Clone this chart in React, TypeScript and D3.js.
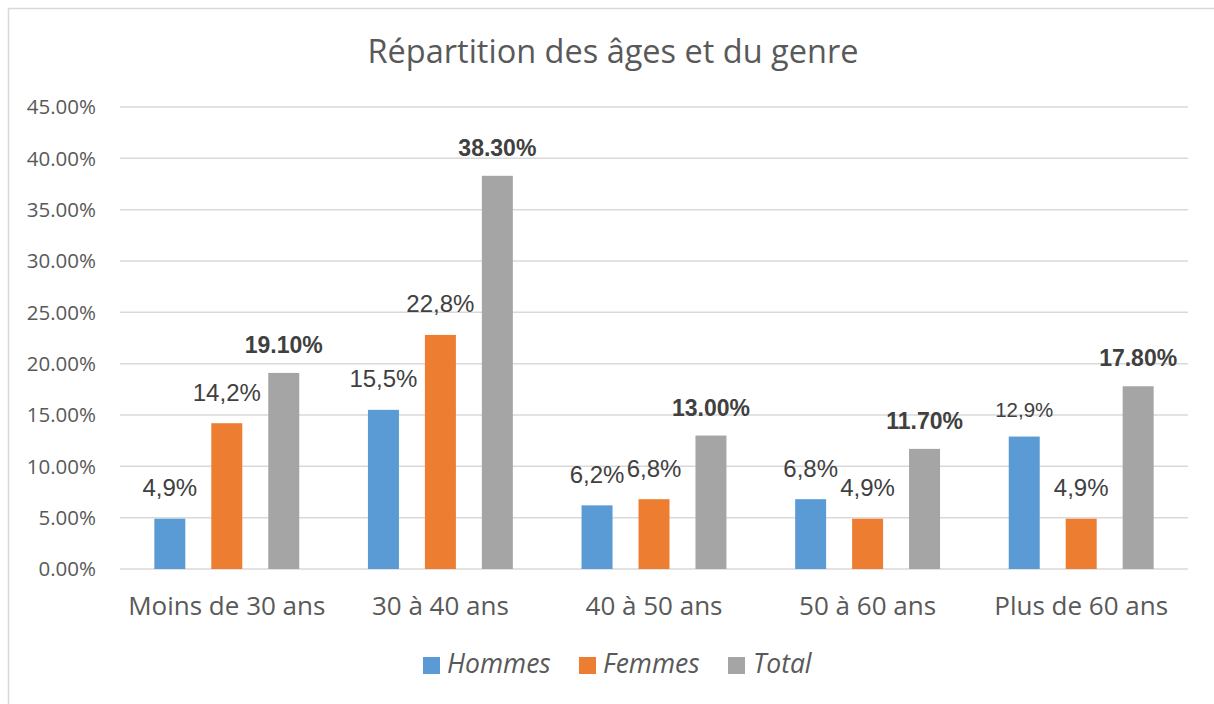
import React from "react";
import * as d3 from "d3";

const categories = ["Moins de 30 ans", "30 à 40 ans", "40 à 50 ans", "50 à 60 ans", "Plus de 60 ans"];
const seriesNames = ["Hommes", "Femmes", "Total"];
const hommes = [4.9, 15.5, 6.2, 6.8, 12.9];
const femmes = [14.2, 22.8, 6.8, 4.9, 4.9];
const total = [19.1, 38.3, 13.0, 11.7, 17.8];
const yTicks = [0, 5, 10, 15, 20, 25, 30, 35, 40, 45];
const colors = ["#5B9BD5", "#ED7D31", "#A5A5A5"];

const W = 1214;
const H = 704;
const plot = { left: 120, right: 1188, top: 107, bottom: 569 };
const textColor = "#595959";
const labelColor = "#404040";
const sans = "'Open Sans', 'Liberation Sans', sans-serif";
const arial = "'Liberation Sans', Arial, sans-serif";

export default function App() {
  const values = [hommes, femmes, total];
  const x0 = d3.scaleBand<string>().domain(categories).range([plot.left, plot.right]).paddingInner(0.2).paddingOuter(0.1);
  const x1 = d3.scaleBand<string>().domain(seriesNames).range([0, x0.bandwidth()]).paddingInner(0.456).paddingOuter(0.228);
  const y = d3.scaleLinear().domain([0, 45]).range([plot.bottom, plot.top]);
  const fmtComma = (v: number) => v.toFixed(1).replace(".", ",") + "%";
  const fmtTotal = (v: number) => v.toFixed(2) + "%";
  const fmtAxis = (v: number) => v.toFixed(2) + "%";

  const legendItems = [
    { name: "Hommes", sx: 423, tx: 447 },
    { name: "Femmes", sx: 579, tx: 603 },
    { name: "Total", sx: 728, tx: 753 },
  ];

  return (
    <svg width={W} height={H} style={{ position: "absolute", left: 0, top: 0, background: "#fff" }}>
      <rect x={8.5} y={8.5} width={W + 20} height={H + 20} fill="#fff" stroke="#d9d9d9" strokeWidth={1.5} />
      <text x={613} y={63} textAnchor="middle" fontFamily={sans} fontSize={32.5} fill={textColor}>
        Répartition des âges et du genre
      </text>
      {yTicks.map((t) => (
        <g key={t}>
          <line x1={plot.left} x2={plot.right} y1={y(t)} y2={y(t)} stroke="#d9d9d9" strokeWidth={1.5} />
          <text x={96} y={y(t)} dy="0.36em" textAnchor="end" fontFamily={sans} fontSize={20.5} fill={textColor}>
            {fmtAxis(t)}
          </text>
        </g>
      ))}
      {categories.map((c, i) => (
        <g key={c}>
          {seriesNames.map((s, j) => {
            const v = values[j][i];
            const bx = (x0(c) as number) + (x1(s) as number);
            const bw = x1.bandwidth();
            const top = y(v);
            const isTotal = j === 2;
            const small = j === 0 && i === 4;
            return (
              <g key={s}>
                <rect x={bx} y={top} width={bw} height={y(0) - top} fill={colors[j]} />
                <text
                  x={bx + bw / 2}
                  y={top - (isTotal ? 20 : small ? 19.5 : 22.5)}
                  textAnchor="middle"
                  fontFamily={arial}
                  fontWeight={isTotal ? "bold" : "normal"}
                  fontSize={isTotal ? 23 : small ? 20.5 : 24}
                  fill={labelColor}
                >
                  {isTotal ? fmtTotal(v) : fmtComma(v)}
                </text>
              </g>
            );
          })}
          <text x={(x0(c) as number) + x0.bandwidth() / 2} y={615} textAnchor="middle" fontFamily={sans} fontSize={26} fill={textColor}>
            {c}
          </text>
        </g>
      ))}
      {legendItems.map((l, j) => (
        <g key={l.name}>
          <rect x={l.sx} y={657} width={17} height={17} fill={colors[j]} />
          <text x={l.tx} y={673} fontFamily={sans} fontStyle="italic" fontSize={26.5} fill={textColor}>
            {l.name}
          </text>
        </g>
      ))}
    </svg>
  );
}
